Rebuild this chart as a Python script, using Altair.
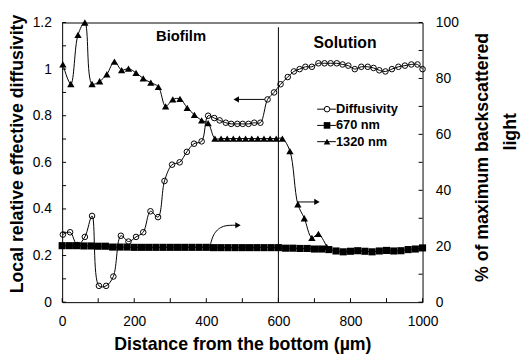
import altair as alt
import pandas as pd

# ---------------- data ----------------
diff_x = [2, 22, 42, 63, 83, 102, 122, 142, 163, 184,
          205, 225, 245, 266, 284, 305, 326, 346, 366, 387,
          405, 422, 437, 454, 469, 486, 501, 517, 533, 550,
          570, 588, 606, 626, 643, 659, 675, 693, 711, 728,
          745, 762, 778, 794, 812, 830, 848, 864, 880, 897,
          915, 933, 951, 969, 986, 1000]
diff_y = [0.29, 0.30, 0.245, 0.28, 0.37, 0.07, 0.07, 0.11, 0.285, 0.26,
          0.28, 0.30, 0.39, 0.365, 0.52, 0.59, 0.60, 0.645, 0.68, 0.69,
          0.80, 0.79, 0.78, 0.77, 0.765, 0.765, 0.765, 0.765, 0.77, 0.77,
          0.87, 0.90, 0.935, 0.966, 0.99, 1.00, 1.01, 1.01, 1.025, 1.025,
          1.025, 1.025, 1.02, 1.015, 1.00, 1.01, 1.01, 1.005, 0.995, 0.99,
          1.00, 1.01, 1.015, 1.02, 1.02, 1.00]

tri_x = [2, 24, 44, 63, 83, 104, 124, 145, 165, 184,
         205, 225, 246, 267, 287, 307, 327, 347, 367, 387,
         405, 424, 441, 458, 475, 492, 509, 526, 543, 560,
         577, 594, 611, 632, 654, 672, 693, 711, 734]
tri_pct = [85, 78, 95.6, 100, 78, 79, 81.5, 86, 83, 83.5,
           82, 80, 78.5, 77, 70, 72.5, 72.7, 69.5, 67, 65,
           64, 58.5, 58.5, 58.5, 58.5, 58.5, 58.5, 58.5, 58.5, 58.5,
           58.5, 58.5, 58.5, 54, 35, 30, 23, 24.4, 19.8]

sq_x = [0, 20, 40, 60, 80, 100, 120, 140, 160, 180,
        200, 220, 240, 260, 280, 300, 320, 340, 360, 380,
        400, 420, 440, 460, 480, 500, 520, 540, 560, 580,
        600, 620, 640, 660, 680, 700, 720, 740, 760, 780,
        800, 820, 840, 860, 880, 900, 920, 940, 960, 980, 1000]
sq_pct = [20.2, 20.2, 20.2, 20.1, 20.1, 20.0, 20.0, 19.7, 19.7, 19.7,
          19.6, 19.6, 19.6, 19.6, 19.6, 19.6, 19.6, 19.6, 19.6, 19.6,
          19.6, 19.5, 19.5, 19.5, 19.5, 19.5, 19.5, 19.5, 19.5, 19.5,
          19.5, 19.3, 19.3, 19.2, 19.2, 19.0, 19.0, 18.8, 18.3, 18.0,
          18.2, 18.4, 18.2, 18.0, 18.3, 18.5, 18.3, 18.4, 18.8, 19.0, 19.4]

x_tick_vals = [0, 100, 200, 300, 400, 500, 600, 700, 800, 900, 1000]
x_label_vals = [0, 200, 400, 600, 800, 1000]
left_tick_vals = [0, 0.1, 0.2, 0.3, 0.4, 0.5, 0.6, 0.7, 0.8, 0.9, 1.0, 1.1, 1.2]
left_label_vals = [0, 0.2, 0.4, 0.6, 0.8, 1.0, 1.2]
right_tick_vals = [0, 10, 20, 30, 40, 50, 60, 70, 80, 90, 100]
right_label_vals = [0, 20, 40, 60, 80, 100]

# annotation arrows (data units)
arrow_left_x = [483, 562]
arrow_left_y = [0.87, 0.87]
arrow_right_x = [652, 707]
arrow_right_y = [0.43, 0.43]
arrow_curve_x = [410, 418, 428, 440, 455, 472, 488]
arrow_curve_y = [0.24, 0.28, 0.305, 0.32, 0.328, 0.33, 0.33]

region_labels = ["Biofilm", "Solution"]
region_x = [330, 785]
region_y = [1.14, 1.11]
region_size = [15, 16]

legend_labels = ["Diffusivity", "670 nm", "1320 nm"]
legend_shapes = ["circle", "square", "triangle-up"]
legend_filled = [False, True, True]

FONT = "Liberation Sans"
W, H = 366, 284
XDOM = [0, 1000]

xaxis = alt.Axis(values=x_label_vals, format="d", ticks=False, domain=False, grid=False,
                 labelFlush=False, labelFontSize=14, labelFont=FONT, labelColor="black", labelPadding=13,
                 title="Distance from the bottom (\u00b5m)", titleFont=FONT, titleFontSize=18,
                 titleFontWeight="bold", titleColor="black", titlePadding=7)
laxis = alt.Axis(values=left_label_vals, format="~g", ticks=False, domain=False, grid=False,
                 labelFontSize=14, labelFont=FONT, labelColor="black", labelPadding=11,
                 title="Local relative effective diffusivity", titleFont=FONT, titleFontSize=18,
                 titleFontWeight="bold", titleColor="black", titlePadding=6, titleY=133)
raxis = alt.Axis(orient="right", values=right_label_vals, ticks=False, domain=False, grid=False,
                 labelFontSize=14, labelFont=FONT, labelColor="black", labelPadding=13, title=None)


def X(field):
    return alt.X(field, type="quantitative", scale=alt.Scale(domain=XDOM, nice=False, zero=False), axis=xaxis)


def YL(field):
    return alt.Y(field, type="quantitative", scale=alt.Scale(domain=[0, 1.2], nice=False, zero=False), axis=laxis)


def YR(field):
    return alt.Y(field, type="quantitative", scale=alt.Scale(domain=[0, 100], nice=False, zero=False), axis=raxis)


diff_df = pd.DataFrame({"x": diff_x, "y": diff_y})
tri_df = pd.DataFrame({"x": tri_x, "p": tri_pct})
sq_df = pd.DataFrame({"x": sq_x, "p": sq_pct})

diff_line = alt.Chart(diff_df).mark_line(color="black", strokeWidth=1, interpolate="catmull-rom").encode(x=X("x"), y=YL("y"))
diff_pts = alt.Chart(diff_df).mark_point(shape="circle", filled=False, color="black", strokeWidth=1, size=32, opacity=1).encode(x=X("x"), y=YL("y"))

vline = alt.Chart(pd.DataFrame({"x": [600], "y": [0], "y2": [1.18]})).mark_rule(color="black", strokeWidth=1).encode(
    x=X("x"), y=YL("y"), y2="y2")

a1 = alt.Chart(pd.DataFrame({"x": arrow_left_x, "y": arrow_left_y})).mark_line(color="black", strokeWidth=1).encode(x=X("x"), y=YL("y"))
a1h = alt.Chart(pd.DataFrame({"x": arrow_left_x[:1], "y": arrow_left_y[:1]})).mark_point(
    shape="triangle-left", filled=True, color="black", size=40, opacity=1).encode(x=X("x"), y=YL("y"))
a2 = alt.Chart(pd.DataFrame({"x": arrow_right_x, "y": arrow_right_y})).mark_line(color="black", strokeWidth=1).encode(x=X("x"), y=YL("y"))
a2h = alt.Chart(pd.DataFrame({"x": arrow_right_x[-1:], "y": arrow_right_y[-1:]})).mark_point(
    shape="triangle-right", filled=True, color="black", size=40, opacity=1).encode(x=X("x"), y=YL("y"))
a3 = alt.Chart(pd.DataFrame({"x": arrow_curve_x, "y": arrow_curve_y})).mark_line(color="black", strokeWidth=1, interpolate="monotone").encode(x=X("x"), y=YL("y"))
a3h = alt.Chart(pd.DataFrame({"x": arrow_curve_x[-1:], "y": arrow_curve_y[-1:]})).mark_point(
    shape="triangle-right", filled=True, color="black", size=40, opacity=1).encode(x=X("x"), y=YL("y"))

regions = alt.Chart(pd.DataFrame({"x": region_x, "y": region_y, "t": region_labels, "s": region_size})).mark_text(
    font=FONT, fontWeight="bold", color="black", align="center", baseline="middle").encode(
    x=X("x"), y=YL("y"), text="t:N", size=alt.Size("s:Q", scale=None, legend=None))

xt = alt.Chart(pd.DataFrame({"x": x_tick_vals})).mark_rule(color="black", strokeWidth=1).encode(
    x=X("x"), y=alt.value(H), y2=alt.value(H - 4))
lt = alt.Chart(pd.DataFrame({"y": left_tick_vals})).mark_rule(color="black", strokeWidth=1).encode(
    y=YL("y"), x=alt.value(0), x2=alt.value(4))

# legend (drawn manually, pixel layout)
legend_layers = []
leg_x0, leg_y0, leg_dy = 259, 88, 16.5
for i, (lab, shp, fil) in enumerate(zip(legend_labels, legend_shapes, legend_filled)):
    yy = leg_y0 + i * leg_dy
    legend_layers.append(alt.Chart(pd.DataFrame({"t": [lab]})).mark_rule(color="black", strokeWidth=1).encode(
        x=alt.value(leg_x0), x2=alt.value(leg_x0 + 19), y=alt.value(yy)))
    legend_layers.append(alt.Chart(pd.DataFrame({"t": [lab]})).mark_point(
        shape=shp, filled=fil, color="black", strokeWidth=1, size=32 if shp == "circle" else 45, opacity=1,
        fill="white" if not fil else "black").encode(x=alt.value(leg_x0 + 10), y=alt.value(yy)))
    legend_layers.append(alt.Chart(pd.DataFrame({"t": [lab]})).mark_text(
        font=FONT, fontSize=13, fontWeight="bold", color="black", align="left", baseline="middle").encode(
        x=alt.value(leg_x0 + 19), y=alt.value(yy), text="t:N"))

left_group = alt.layer(diff_line, diff_pts, vline, a1, a1h, a2, a2h, a3, a3h, regions, xt, lt, *legend_layers)

tri_line = alt.Chart(tri_df).mark_line(color="black", strokeWidth=1, interpolate="catmull-rom").encode(x=X("x"), y=YR("p"))
tri_pts = alt.Chart(tri_df).mark_point(shape="triangle-up", filled=True, color="black", size=55, opacity=1).encode(x=X("x"), y=YR("p"))
sq_line = alt.Chart(sq_df).mark_line(color="black", strokeWidth=1).encode(x=X("x"), y=YR("p"))
sq_pts = alt.Chart(sq_df).mark_point(shape="square", filled=True, color="black", size=52, opacity=1).encode(x=X("x"), y=YR("p"))
rt = alt.Chart(pd.DataFrame({"p": right_tick_vals})).mark_rule(color="black", strokeWidth=1).encode(
    y=YR("p"), x=alt.value(W - 4), x2=alt.value(W))

rtitle1 = alt.Chart(pd.DataFrame({"t": ["% of maximum backscattered"]})).mark_text(
    font=FONT, fontSize=18, fontWeight="bold", color="black", angle=270, align="center", baseline="middle").encode(
    x=alt.value(W + 61), y=alt.value(137), text="t:N")
rtitle2 = alt.Chart(pd.DataFrame({"t": ["light"]})).mark_text(
    font=FONT, fontSize=18, fontWeight="bold", color="black", angle=270, align="center", baseline="middle").encode(
    x=alt.value(W + 90), y=alt.value(111), text="t:N")

right_group = alt.layer(sq_line, sq_pts, tri_line, tri_pts, rt, rtitle1, rtitle2)

chart = alt.layer(left_group, right_group).resolve_scale(y="independent").properties(
    width=W, height=H,
    padding={"left": 55, "top": 12, "right": 101, "bottom": 56},
    autosize=alt.AutoSizeParams(type="none"),
    background="white",
).configure_view(stroke="black", strokeWidth=1)

chart.save("out.html", embed_options={"renderer": "svg", "actions": False})
